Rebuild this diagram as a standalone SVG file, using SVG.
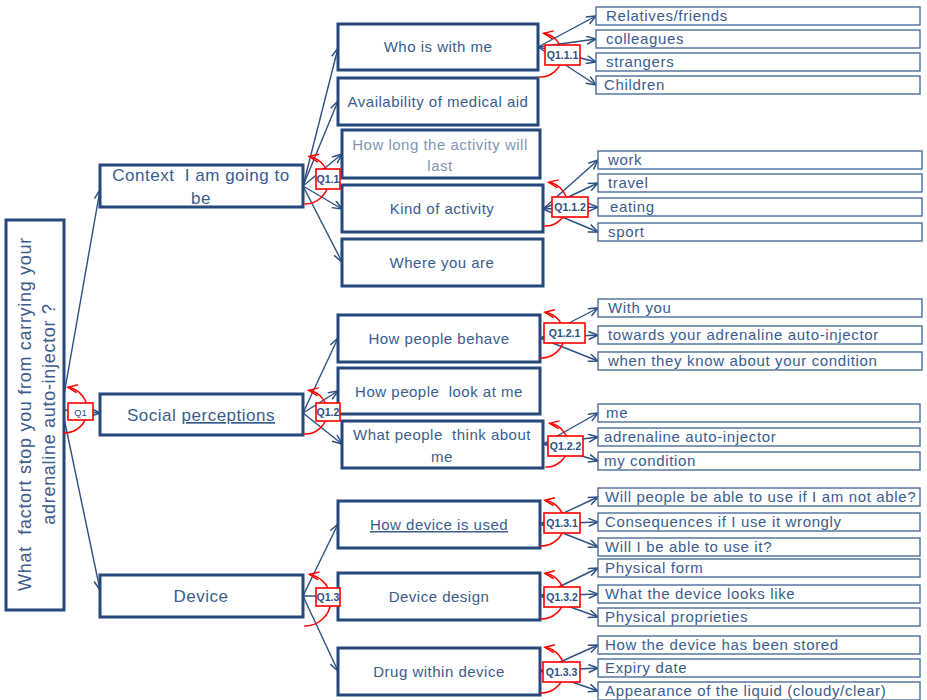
<svg xmlns="http://www.w3.org/2000/svg" width="927" height="700" viewBox="0 0 927 700">
<defs>
<marker id="ah" markerUnits="userSpaceOnUse" markerWidth="12" markerHeight="10" refX="10" refY="4.5" orient="auto" viewBox="0 0 12 10">
<path d="M0.5,0.5 L10,4.5 L0.5,8.5" fill="none" stroke="#2C5082" stroke-width="1.5"/>
</marker>
<marker id="ra" markerUnits="userSpaceOnUse" markerWidth="12" markerHeight="10" refX="10" refY="4.5" orient="auto-start-reverse" viewBox="0 0 12 10">
<path d="M0.5,0.5 L10,4.5 L0.5,8.5" fill="none" stroke="#FF0000" stroke-width="1.5"/>
</marker>
</defs>
<style>
.b1{fill:#fff;stroke:#24497A;stroke-width:3}
.b3{fill:#fff;stroke:#4C6E9C;stroke-width:1.4}
.t{font-family:"Liberation Sans",Arial,sans-serif;fill:#3A5C8E;letter-spacing:0.5px}
.t1{font-size:17px;text-anchor:middle}
.t2{font-size:15px;text-anchor:middle}
.t3{font-size:15px;letter-spacing:0.65px}
.c{fill:none;stroke:#2C5082;stroke-width:1.4;marker-end:url(#ah)}
.arc{fill:none;stroke:#FF0000;stroke-width:1.5;marker-start:url(#ra)}
.q{fill:#fff;stroke:#FF0000;stroke-width:1.6}
.qt{font-family:"Liberation Sans",Arial,sans-serif;font-size:10.5px;font-weight:bold;fill:#2C5082;text-anchor:middle}
</style>

<g id="connectors">
<path class="c" d="M64,395 L100,190"/>
<path class="c" d="M64,410 L100,413"/>
<path class="c" d="M64,418 L100,590"/>
<path class="c" d="M303,186 L338,48"/>
<path class="c" d="M303,186 L338,101"/>
<path class="c" d="M303,186 L342,154"/>
<path class="c" d="M303,186 L342,209"/>
<path class="c" d="M303,186 L342,262"/>
<path class="c" d="M303,413 L338,338"/>
<path class="c" d="M303,413 L338,391"/>
<path class="c" d="M303,413 L342,444"/>
<path class="c" d="M303,596 L338,524"/>
<path class="c" d="M303,596 L338,596"/>
<path class="c" d="M303,596 L338,671"/>
<path class="c" d="M538,47 L596,16"/>
<path class="c" d="M538,47 L596,39"/>
<path class="c" d="M538,47 L596,62"/>
<path class="c" d="M538,47 L596,85"/>
<path class="c" d="M543,209 L598,160"/>
<path class="c" d="M543,209 L598,183"/>
<path class="c" d="M543,209 L598,207"/>
<path class="c" d="M543,209 L598,232"/>
<path class="c" d="M540,338 L598,308"/>
<path class="c" d="M540,338 L598,335"/>
<path class="c" d="M540,338 L598,361"/>
<path class="c" d="M543,444 L598,413"/>
<path class="c" d="M543,444 L598,437"/>
<path class="c" d="M543,444 L598,461"/>
<path class="c" d="M540,524 L598,497"/>
<path class="c" d="M540,524 L598,522"/>
<path class="c" d="M540,524 L598,547"/>
<path class="c" d="M540,596 L598,568"/>
<path class="c" d="M540,596 L598,594"/>
<path class="c" d="M540,596 L598,617"/>
<path class="c" d="M540,671 L598,645"/>
<path class="c" d="M540,671 L598,668"/>
<path class="c" d="M540,671 L598,691"/>
</g>

<g id="root">
<rect class="b1" x="6" y="220" width="58" height="390"/>
<text class="t" font-size="18" text-anchor="middle" transform="rotate(-90)" style="white-space:pre;letter-spacing:0.7px"><tspan x="-414" y="31">What  factort stop you from carrying your</tspan><tspan x="-414" y="55">adrenaline auto-injector ?</tspan></text>
</g>

<g id="context">
<rect class="b1" x="100" y="165" width="203" height="42"/>
<text class="t t1" style="white-space:pre"><tspan x="201" y="181">Context  I am going to</tspan><tspan x="201" y="204">be</tspan></text>
</g>
<g id="social">
<rect class="b1" x="100" y="394" width="203" height="41"/>
<text class="t t1" x="201" y="421">Social <tspan text-decoration="underline">perceptions</tspan></text>
</g>
<g id="device">
<rect class="b1" x="100" y="575" width="203" height="42"/>
<text class="t t1" x="201" y="602">Device</text>
</g>

<g id="who">
<rect class="b1" x="338" y="24" width="200" height="46"/>
<text class="t t2" x="438" y="52">Who is with me</text>
</g>
<g id="availability">
<rect class="b1" x="338" y="78" width="200" height="47"/>
<text class="t t2" x="438" y="107">Availability of medical aid</text>
</g>
<g id="howlong">
<rect class="b1" x="342" y="130" width="198" height="48"/>
<text class="t t2" style="fill:#8096B6"><tspan x="440" y="150">How long the activity will</tspan><tspan x="440" y="171">last</tspan></text>
</g>
<g id="kind">
<rect class="b1" x="342" y="185" width="201" height="47"/>
<text class="t t2" x="442" y="214">Kind of activity</text>
</g>
<g id="where">
<rect class="b1" x="342" y="239" width="201" height="47"/>
<text class="t t2" x="442" y="268">Where you are</text>
</g>

<g id="behave">
<rect class="b1" x="338" y="315" width="202" height="47"/>
<text class="t t2" x="439" y="344">How people behave</text>
</g>
<g id="look">
<rect class="b1" x="338" y="368" width="202" height="46"/>
<text class="t t2" x="439" y="397" style="white-space:pre">How people  look at me</text>
</g>
<g id="think">
<rect class="b1" x="342" y="421" width="201" height="47"/>
<text class="t t2" style="white-space:pre"><tspan x="442" y="440">What people  think about</tspan><tspan x="442" y="462">me</tspan></text>
</g>

<g id="used">
<rect class="b1" x="338" y="501" width="202" height="47"/>
<text class="t t2" x="439" y="530" text-decoration="underline">How device is used</text>
</g>
<g id="design">
<rect class="b1" x="338" y="573" width="202" height="47"/>
<text class="t t2" x="439" y="602">Device design</text>
</g>
<g id="drug">
<rect class="b1" x="338" y="648" width="202" height="47"/>
<text class="t t2" x="439" y="677">Drug within device</text>
</g>

<g id="l3-who">
<rect class="b3" x="596" y="7" width="324" height="18"/><text class="t t3" x="606" y="21">Relatives/friends</text>
<rect class="b3" x="596" y="30" width="324" height="18"/><text class="t t3" x="606" y="44">colleagues</text>
<rect class="b3" x="596" y="53" width="324" height="18"/><text class="t t3" x="606" y="67">strangers</text>
<rect class="b3" x="596" y="76" width="324" height="18"/><text class="t t3" x="604" y="90">Children</text>
</g>
<g id="l3-kind">
<rect class="b3" x="598" y="151" width="324" height="18"/><text class="t t3" x="608" y="165">work</text>
<rect class="b3" x="598" y="174" width="324" height="18"/><text class="t t3" x="608" y="188">travel</text>
<rect class="b3" x="598" y="198" width="324" height="18"/><text class="t t3" x="610" y="212">eating</text>
<rect class="b3" x="598" y="223" width="324" height="18"/><text class="t t3" x="608" y="237">sport</text>
</g>
<g id="l3-behave">
<rect class="b3" x="598" y="299" width="324" height="18"/><text class="t t3" x="608" y="313">With you</text>
<rect class="b3" x="598" y="326" width="324" height="18"/><text class="t t3" x="608" y="340">towards your adrenaline auto-injector</text>
<rect class="b3" x="598" y="352" width="324" height="18"/><text class="t t3" x="608" y="366">when they know about your condition</text>
</g>
<g id="l3-think">
<rect class="b3" x="598" y="404" width="322" height="18"/><text class="t t3" x="606" y="418">me</text>
<rect class="b3" x="598" y="428" width="322" height="18"/><text class="t t3" x="604" y="442">adrenaline auto-injector</text>
<rect class="b3" x="598" y="452" width="322" height="18"/><text class="t t3" x="604" y="466">my condition</text>
</g>
<g id="l3-used">
<rect class="b3" x="598" y="488" width="322" height="18"/><text class="t t3" x="605" y="502">Will people be able to use if I am not able?</text>
<rect class="b3" x="598" y="513" width="322" height="18"/><text class="t t3" x="605" y="527">Consequences if I use it wrongly</text>
<rect class="b3" x="598" y="538" width="322" height="18"/><text class="t t3" x="605" y="552">Will I be able to use it?</text>
</g>
<g id="l3-design">
<rect class="b3" x="598" y="559" width="322" height="18"/><text class="t t3" x="605" y="573">Physical form</text>
<rect class="b3" x="598" y="585" width="322" height="18"/><text class="t t3" x="605" y="599">What the device looks like</text>
<rect class="b3" x="598" y="608" width="322" height="18"/><text class="t t3" x="605" y="622">Physical proprieties</text>
</g>
<g id="l3-drug">
<rect class="b3" x="598" y="636" width="322" height="18"/><text class="t t3" x="605" y="650">How the device has been stored</text>
<rect class="b3" x="598" y="659" width="322" height="18"/><text class="t t3" x="605" y="673">Expiry date</text>
<rect class="b3" x="598" y="682" width="322" height="18"/><text class="t t3" x="605" y="696">Appearance of the liquid (cloudy/clear)</text>
</g>

<g id="q1"><path class="arc" d="M67.9,387.3 A23,23 0 0 1 63.3,433"/><rect class="q" x="68" y="403" width="25" height="17"/><text class="qt" x="80.5" y="415.5" style="font-weight:normal;font-size:9.5px">Q1</text></g>
<g id="q1-1"><path class="arc" d="M309.1,156.4 A24,24 0 0 1 304.3,204"/><rect class="q" x="316" y="169" width="24" height="20"/><text class="qt" x="328" y="183">Q1.1</text></g>
<g id="q1-1-1"><path class="arc" d="M543.7,33.3 A22,22 0 0 1 539.3,77"/><rect class="q" x="545" y="45" width="35" height="20"/><text class="qt" x="562.5" y="59">Q1.1.1</text></g>
<g id="q1-1-2"><path class="arc" d="M548.7,182.3 A22,22 0 0 1 544.3,226"/><rect class="q" x="552" y="197" width="36" height="20"/><text class="qt" x="570" y="211">Q1.1.2</text></g>
<g id="q1-2"><path class="arc" d="M308.7,390.3 A22,22 0 0 1 304.3,434"/><rect class="q" x="316" y="403" width="24" height="18"/><text class="qt" x="328" y="416">Q1.2</text></g>
<g id="q1-2-1"><path class="arc" d="M544.9,312.3 A23,23 0 0 1 540.3,358"/><rect class="q" x="544" y="323" width="41" height="20"/><text class="qt" x="564.5" y="337">Q1.2.1</text></g>
<g id="q1-2-2"><path class="arc" d="M549.7,423.3 A22,22 0 0 1 545.3,467"/><rect class="q" x="548" y="436" width="35" height="20"/><text class="qt" x="565.5" y="450">Q1.2.2</text></g>
<g id="q1-3"><path class="arc" d="M309.4,574.4 A26,26 0 0 1 304.2,626"/><rect class="q" x="316" y="588" width="24" height="18"/><text class="qt" x="328" y="601">Q1.3</text></g>
<g id="q1-3-1"><path class="arc" d="M544.9,500.3 A23,23 0 0 1 540.3,546"/><rect class="q" x="544" y="513" width="36" height="20"/><text class="qt" x="562" y="527">Q1.3.1</text></g>
<g id="q1-3-2"><path class="arc" d="M544.9,573.3 A23,23 0 0 1 540.3,619"/><rect class="q" x="544" y="587" width="36" height="20"/><text class="qt" x="562" y="601">Q1.3.2</text></g>
<g id="q1-3-3"><path class="arc" d="M544.9,647.3 A23,23 0 0 1 540.3,693"/><rect class="q" x="543" y="662" width="37" height="20"/><text class="qt" x="561.5" y="676">Q1.3.3</text></g>
</svg>
